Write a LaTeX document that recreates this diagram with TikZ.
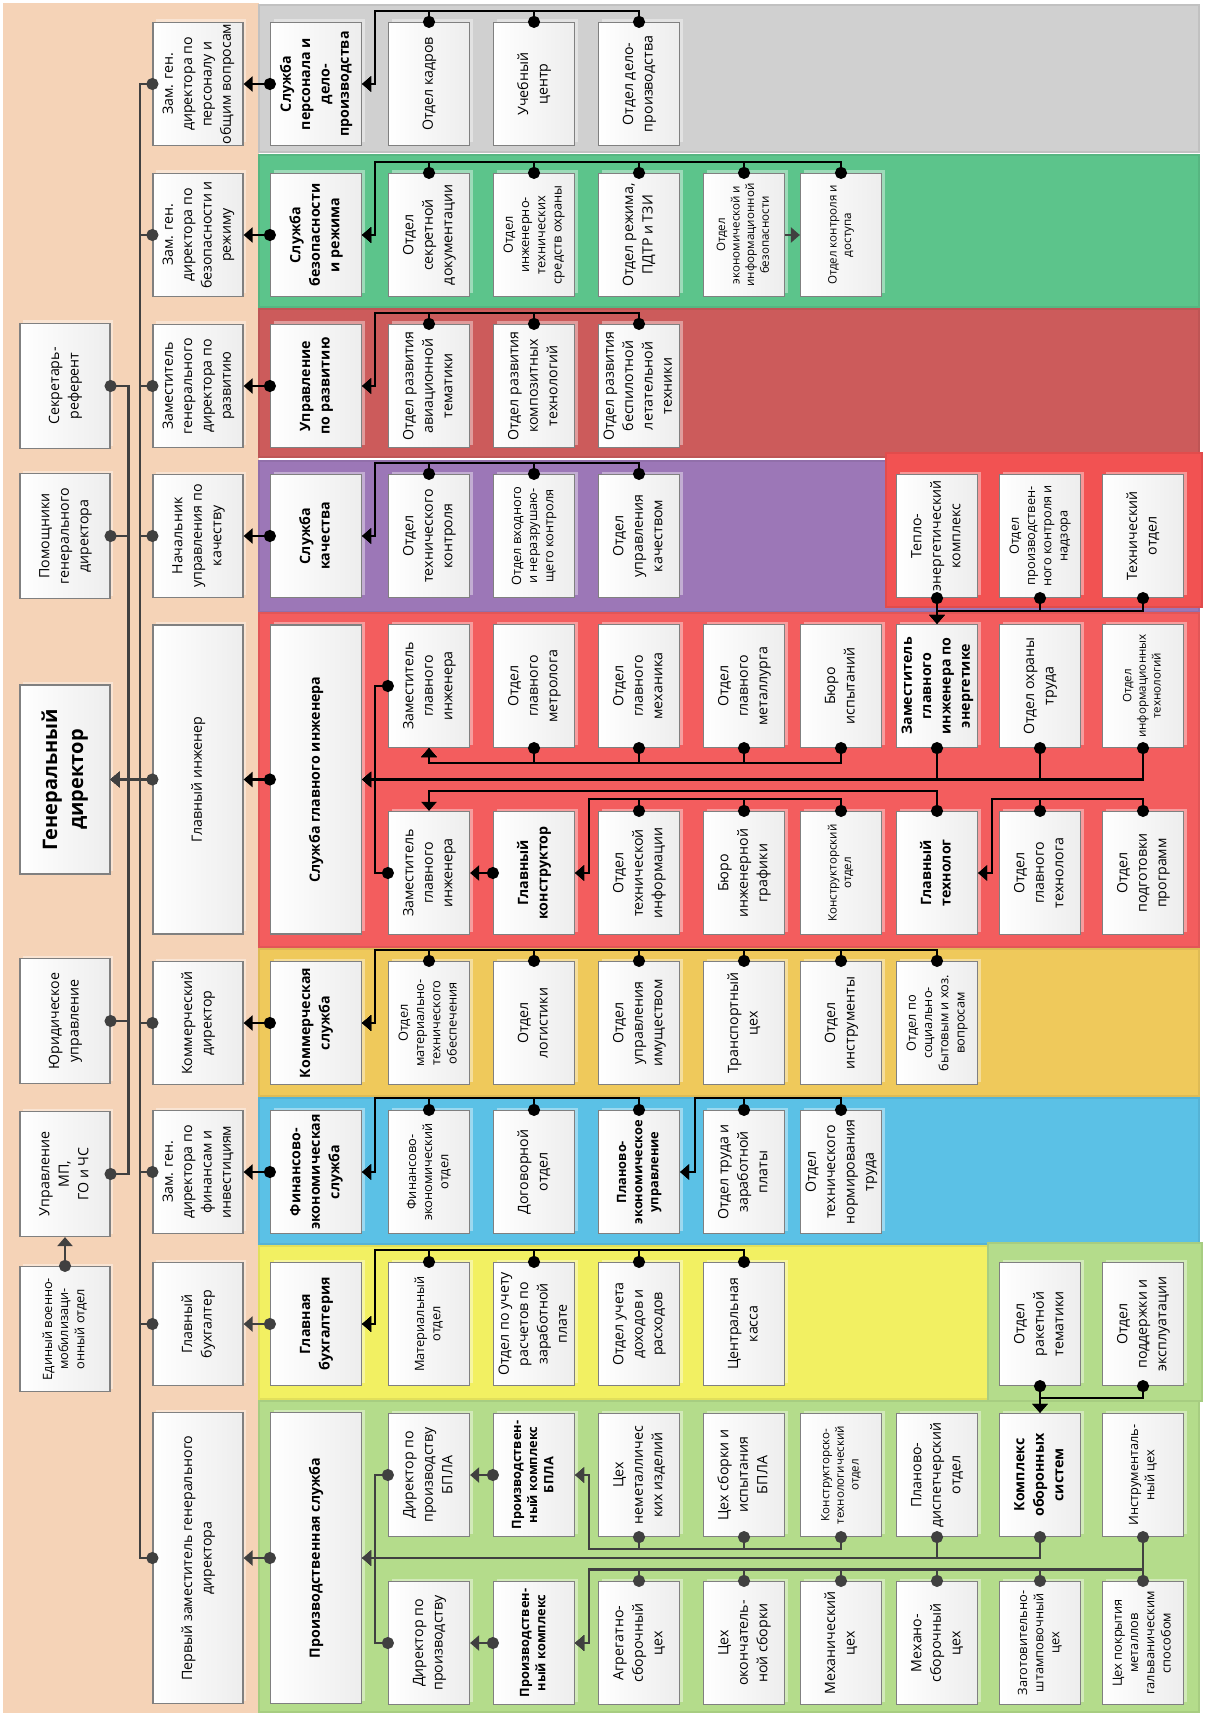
\documentclass[tikz,border=0pt]{standalone}
\usepackage{fontspec}
\setmainfont{Open Sans}
\usepackage{graphicx}
\usetikzlibrary{arrows.meta,calc,shadows}

\definecolor{peach}{HTML}{F5D3B7}
\definecolor{bandgray}{HTML}{D0D0D0}
\definecolor{bandgreen}{HTML}{5CC48B}
\definecolor{banddev}{HTML}{CC5B5B}
\definecolor{bandqual}{HTML}{9C77B7}
\definecolor{bandeng}{HTML}{F35D5E}
\definecolor{bandframe}{HTML}{F25252}
\definecolor{bandcom}{HTML}{EFC95B}
\definecolor{bandfin}{HTML}{5BC1E6}
\definecolor{bandbuh}{HTML}{F2F062}
\definecolor{bandprod}{HTML}{B4DC8B}
\definecolor{linegray}{HTML}{404040}

\newcommand{\vt}[1]{\rotatebox{90}{\begin{tabular}{@{}c@{}}#1\end{tabular}}}

\begin{document}
\begin{tikzpicture}[
  x=0.5pt, y=-0.5pt,
  box/.style={rectangle, draw=black!50, line width=0.6pt, left color=white, right color=black!7,
              inner sep=0pt, minimum width=40.5pt, minimum height=61.5pt,
              font=\fontsize{7.1}{9.7}\selectfont,
              drop shadow={shadow xshift=1.5pt, shadow yshift=1.5pt, fill=white, opacity=0.4}},
  leftcol/.style={minimum width=45pt, minimum height=62.5pt},
  headcol/.style={minimum width=45pt},
  servcol/.style={minimum width=45.5pt, font=\fontsize{7.1}{9.7}\selectfont\bfseries},
  tallbox/.style={minimum height=154.5pt},
  prodbox/.style={minimum height=145.5pt},
  smalltxt/.style={font=\fontsize{6.4}{8.1}\selectfont},
  tinytxt/.style={font=\fontsize{5.8}{7.3}\selectfont},
  boldtxt/.style={font=\fontsize{7.1}{9.7}\selectfont\bfseries},
  boldsmall/.style={font=\fontsize{6.4}{8.1}\selectfont\bfseries},
  band/.style={fill=#1, draw=#1!93!black, line width=1pt},
  link/.style={draw=black, line width=1.3pt, {Circle[length=6pt]}-{Triangle[length=4.5pt,width=7.5pt]}, shorten <=-3pt},
  hlink/.style={link, draw=linegray},
  plainarrow/.style={draw=linegray, line width=1.3pt, -{Triangle[length=4.5pt,width=7.5pt]}}
]
\useasboundingbox (0,0) rectangle (1204,1717);

% backgrounds
\fill[white] (0,0) rectangle (1204,1717);
\fill[peach] (3,3) rectangle (259,1713);
\filldraw[band=bandgray] (259,5) rectangle (1199,152);
\filldraw[band=bandgreen] (259,155) rectangle (1199,307);
\filldraw[band=banddev] (259,309) rectangle (1199,457);
\filldraw[band=bandqual] (259,461) rectangle (1199,612);
\filldraw[band=bandframe] (886,453) rectangle (1202,607);
\filldraw[band=bandeng] (259,613) rectangle (1199,947);
\filldraw[band=bandcom] (259,949) rectangle (1199,1096);
\filldraw[band=bandfin] (259,1098) rectangle (1199,1244);
\filldraw[band=bandbuh] (259,1246) rectangle (988,1399);
\filldraw[band=bandprod] (988,1243) rectangle (1202,1401);
\filldraw[band=bandprod] (259,1401) rectangle (1199,1712);

% left column
\node[box, leftcol] (secr) at (65,386) {\vt{Секретарь-\\референт}};
\node[box, leftcol] (pomosh) at (65,536) {\vt{Помощники\\генерального\\директора}};
\node[box, leftcol, minimum height=94.5pt, font=\fontsize{10}{13}\selectfont\bfseries] (gendir) at (65,779.5) {\vt{Генеральный\\директор}};
\node[box, leftcol] (yurid) at (65,1021) {\vt{Юридическое\\управление}};
\node[box, leftcol] (upmp) at (65,1174) {\vt{Управление\\МП,\\ГО и ЧС}};
\node[box, leftcol, smalltxt] (voen) at (65,1329) {\vt{Единый военно-\\мобилизаци-\\онный отдел}};

% heads
\node[box, headcol] (zamkadr) at (198,84) {\vt{Зам. ген.\\директора по\\персоналу и\\общим вопросам}};
\node[box, headcol] (zambez) at (198,235) {\vt{Зам. ген.\\директора по\\безопасности и\\режиму}};
\node[box, headcol] (zamrazv) at (198,386) {\vt{Заместитель\\генерального\\директора по\\развитию}};
\node[box, headcol] (nachkach) at (198,536) {\vt{Начальник\\управления по\\качеству}};
\node[box, headcol, tallbox] (glinzh) at (198,779.5) {\vt{Главный инженер}};
\node[box, headcol] (komdir) at (198,1023) {\vt{Коммерческий\\директор}};
\node[box, headcol] (zamfin) at (198,1172) {\vt{Зам. ген.\\директора по\\финансам и\\инвестициям}};
\node[box, headcol] (glbuh) at (198,1324) {\vt{Главный\\бухгалтер}};
\node[box, headcol, prodbox] (pervzam) at (198,1558) {\vt{Первый заместитель генерального\\директора}};

% services
\node[box, servcol] (slkadr) at (316,84) {\vt{Служба\\персонала и\\дело-\\производства}};
\node[box, servcol] (slbez) at (316,235) {\vt{Служба\\безопасности\\и режима}};
\node[box, servcol] (uprazv) at (316,386) {\vt{Управление\\по развитию}};
\node[box, servcol] (slkach) at (316,536) {\vt{Служба\\качества}};
\node[box, servcol, tallbox] (slgi) at (316,779.5) {\vt{Служба главного инженера}};
\node[box, servcol] (komsl) at (316,1023) {\vt{Коммерческая\\служба}};
\node[box, servcol] (finsl) at (316,1172) {\vt{Финансово-\\экономическая\\служба}};
\node[box, servcol] (glbuhg) at (316,1324) {\vt{Главная\\бухгалтерия}};
\node[box, servcol, prodbox] (prsl) at (316,1558) {\vt{Производственная служба}};

% personnel
\node[box] (otkadr) at (429,84) {\vt{Отдел кадров}};
\node[box] (uchcen) at (534,84) {\vt{Учебный\\центр}};
\node[box] (otdelo) at (639,84) {\vt{Отдел дело-\\производства}};

% security
\node[box] (otsekr) at (429,235) {\vt{Отдел\\секретной\\документации}};
\node[box, smalltxt] (otinzh) at (534,235) {\vt{Отдел\\инженерно-\\технических\\средств охраны}};
\node[box] (otrezh) at (639,235) {\vt{Отдел режима,\\ПДТР и ТЗИ}};
\node[box, tinytxt] (otekon) at (744,235) {\vt{Отдел\\экономической и\\информационной\\безопасности}};
\node[box, tinytxt] (otkontr) at (841,235) {\vt{Отдел контроля и\\доступа}};

% development
\node[box] (otavia) at (429,386) {\vt{Отдел развития\\авиационной\\тематики}};
\node[box] (otkomp) at (534,386) {\vt{Отдел развития\\композитных\\технологий}};
\node[box] (otbpla) at (639,386) {\vt{Отдел развития\\беспилотной\\летательной\\техники}};

% quality
\node[box] (ottehk) at (429,536) {\vt{Отдел\\технического\\контроля}};
\node[box, smalltxt] (otvhod) at (534,536) {\vt{Отдел входного\\и неразрушаю-\\щего контроля}};
\node[box] (otupkach) at (639,536) {\vt{Отдел\\управления\\качеством}};
\node[box] (teplo) at (937,536) {\vt{Тепло-\\энергетический\\комплекс}};
\node[box, smalltxt] (otprkontr) at (1040,536) {\vt{Отдел\\производствен-\\ного контроля и\\надзора}};
\node[box] (tehotd) at (1143,536) {\vt{Технический\\отдел}};

% chief engineer, upper row
\node[box] (zamgi) at (429,686) {\vt{Заместитель\\главного\\инженера}};
\node[box] (otmetr) at (534,686) {\vt{Отдел\\главного\\метролога}};
\node[box] (otmeh) at (639,686) {\vt{Отдел\\главного\\механика}};
\node[box] (otmetall) at (744,686) {\vt{Отдел\\главного\\металлурга}};
\node[box] (buroisp) at (841,686) {\vt{Бюро\\испытаний}};
\node[box, boldtxt] (zamen) at (937,686) {\vt{Заместитель\\главного\\инженера по\\энергетике}};
\node[box] (otohr) at (1040,686) {\vt{Отдел охраны\\труда}};
\node[box, tinytxt] (otit) at (1143,686) {\vt{Отдел\\информационных\\технологий}};

% chief engineer, lower row
\node[box] (zamgib) at (429,873) {\vt{Заместитель\\главного\\инженера}};
\node[box, boldtxt] (glkon) at (534,873) {\vt{Главный\\конструктор}};
\node[box] (ottinf) at (639,873) {\vt{Отдел\\технической\\информации}};
\node[box] (buroig) at (744,873) {\vt{Бюро\\инженерной\\графики}};
\node[box, tinytxt] (konotd) at (841,873) {\vt{Конструкторский\\отдел}};
\node[box, boldtxt] (gltech) at (937,873) {\vt{Главный\\технолог}};
\node[box] (otgltech) at (1040,873) {\vt{Отдел\\главного\\технолога}};
\node[box] (otpodg) at (1143,873) {\vt{Отдел\\подготовки\\программ}};

% commercial
\node[box, smalltxt] (otmto) at (429,1023) {\vt{Отдел\\материально-\\технического\\обеспечения}};
\node[box] (otlog) at (534,1023) {\vt{Отдел\\логистики}};
\node[box] (otim) at (639,1023) {\vt{Отдел\\управления\\имуществом}};
\node[box] (transp) at (744,1023) {\vt{Транспортный\\цех}};
\node[box] (otinstr) at (841,1023) {\vt{Отдел\\инструменты}};
\node[box, smalltxt] (otsoc) at (937,1023) {\vt{Отдел по\\социально-\\бытовым и хоз.\\вопросам}};

% finance
\node[box, smalltxt] (otfinek) at (429,1172) {\vt{Финансово-\\экономический\\отдел}};
\node[box] (otdog) at (534,1172) {\vt{Договорной\\отдел}};
\node[box, boldsmall] (planek) at (639,1172) {\vt{Планово-\\экономическое\\управление}};
\node[box] (ottruda) at (744,1172) {\vt{Отдел труда и\\заработной\\платы}};
\node[box] (otnorm) at (841,1172) {\vt{Отдел\\технического\\нормирования\\труда}};

% accounting
\node[box, smalltxt] (otmat) at (429,1324) {\vt{Материальный\\отдел}};
\node[box] (otzp) at (534,1324) {\vt{Отдел по учету\\расчетов по\\заработной\\плате}};
\node[box] (otdoh) at (639,1324) {\vt{Отдел учета\\доходов и\\расходов}};
\node[box] (kassa) at (744,1324) {\vt{Центральная\\касса}};
\node[box] (otraket) at (1040,1324) {\vt{Отдел\\ракетной\\тематики}};
\node[box] (otpodd) at (1143,1324) {\vt{Отдел\\поддержки и\\эксплуатации}};

% production, upper row
\node[box] (dirbpla) at (429,1475) {\vt{Директор по\\производству\\БПЛА}};
\node[box, boldsmall] (pkbpla) at (534,1475) {\vt{Производствен-\\ный комплекс\\БПЛА}};
\node[box] (cehnem) at (639,1475) {\vt{Цех\\неметалличес\\ких изделий}};
\node[box] (cehsb) at (744,1475) {\vt{Цех сборки и\\испытания\\БПЛА}};
\node[box, tinytxt] (kto) at (841,1475) {\vt{Конструкторско-\\технологический\\отдел}};
\node[box] (pdo) at (937,1475) {\vt{Планово-\\диспетчерский\\отдел}};
\node[box, boldtxt] (kos) at (1040,1475) {\vt{Комплекс\\оборонных\\систем}};
\node[box, smalltxt] (instr) at (1143,1475) {\vt{Инструменталь-\\ный цех}};

% production, lower row
\node[box] (dirpr) at (429,1643) {\vt{Директор по\\производству}};
\node[box, boldsmall] (pk) at (534,1643) {\vt{Производствен-\\ный комплекс}};
\node[box] (agreg) at (639,1643) {\vt{Агрегатно-\\сборочный\\цех}};
\node[box] (cehok) at (744,1643) {\vt{Цех\\окончатель-\\ной сборки}};
\node[box] (mehceh) at (841,1643) {\vt{Механический\\цех}};
\node[box] (mehsb) at (937,1643) {\vt{Механо-\\сборочный\\цех}};
\node[box, smalltxt] (zagot) at (1040,1643) {\vt{Заготовительно-\\штамповочный\\цех}};
\node[box, smalltxt] (cehpokr) at (1143,1643) {\vt{Цех покрытия\\металлов\\гальваническим\\способом}};

% to the general director
\draw[hlink] (zamkadr.west) -- ++(-12.5,0) |- (gendir.east);
\draw[hlink] (zambez.west) -- ++(-12.5,0) |- (gendir.east);
\draw[hlink] (zamrazv.west) -- ++(-12.5,0) |- (gendir.east);
\draw[hlink] (nachkach.west) -- ++(-12.5,0) |- (gendir.east);
\draw[hlink] (glinzh.west) -- (gendir.east);
\draw[hlink] (komdir.west) -- ++(-12.5,0) |- (gendir.east);
\draw[hlink] (zamfin.west) -- ++(-12.5,0) |- (gendir.east);
\draw[hlink] (glbuh.west) -- ++(-12.5,0) |- (gendir.east);
\draw[hlink] (pervzam.west) -- ++(-12.5,0) |- (gendir.east);
\draw[hlink] (secr.east) -- ++(18,0) |- (gendir.east);
\draw[hlink] (pomosh.east) -- ++(18,0) |- (gendir.east);
\draw[hlink] (yurid.east) -- ++(18,0) |- (gendir.east);
\draw[hlink] (upmp.east) -- ++(18,0) |- (gendir.east);
\draw[hlink] (voen.north) -- (upmp.south);

% services to heads
\draw[link] (slkadr.west) -- (zamkadr.east);
\draw[link] (slbez.west) -- (zambez.east);
\draw[link] (uprazv.west) -- (zamrazv.east);
\draw[link] (slkach.west) -- (nachkach.east);
\draw[link] (slgi.west) -- (glinzh.east);
\draw[link] (komsl.west) -- (komdir.east);
\draw[link] (finsl.west) -- (zamfin.east);
\draw[hlink] (glbuhg.west) -- (glbuh.east);
\draw[hlink] (prsl.west) -- (pervzam.east);

% personnel
\draw[link] (otkadr.north) -- ++(0,-11) -| ($(slkadr.east)+(13,0)$) -- (slkadr.east);
\draw[link] (uchcen.north) -- ++(0,-11) -| ($(slkadr.east)+(13,0)$) -- (slkadr.east);
\draw[link] (otdelo.north) -- ++(0,-11) -| ($(slkadr.east)+(13,0)$) -- (slkadr.east);

% security
\draw[link] (otsekr.north) -- ++(0,-11) -| ($(slbez.east)+(13,0)$) -- (slbez.east);
\draw[link] (otinzh.north) -- ++(0,-11) -| ($(slbez.east)+(13,0)$) -- (slbez.east);
\draw[link] (otrezh.north) -- ++(0,-11) -| ($(slbez.east)+(13,0)$) -- (slbez.east);
\draw[link] (otekon.north) -- ++(0,-11) -| ($(slbez.east)+(13,0)$) -- (slbez.east);
\draw[link] (otkontr.north) -- ++(0,-11) -| ($(slbez.east)+(13,0)$) -- (slbez.east);
\draw[plainarrow] (otekon.east) -- (otkontr.west);

% development
\draw[link] (otavia.north) -- ++(0,-11) -| ($(uprazv.east)+(13,0)$) -- (uprazv.east);
\draw[link] (otkomp.north) -- ++(0,-11) -| ($(uprazv.east)+(13,0)$) -- (uprazv.east);
\draw[link] (otbpla.north) -- ++(0,-11) -| ($(uprazv.east)+(13,0)$) -- (uprazv.east);

% quality
\draw[link] (ottehk.north) -- ++(0,-11) -| ($(slkach.east)+(13,0)$) -- (slkach.east);
\draw[link] (otvhod.north) -- ++(0,-11) -| ($(slkach.east)+(13,0)$) -- (slkach.east);
\draw[link] (otupkach.north) -- ++(0,-11) -| ($(slkach.east)+(13,0)$) -- (slkach.east);
\draw[link] (teplo.south) -- ++(0,13) -| (zamen.north);
\draw[link] (otprkontr.south) -- ++(0,13) -| (zamen.north);
\draw[link] (tehotd.south) -- ++(0,13) -| (zamen.north);

% chief engineer
\draw[link] (otmetr.south) -- ++(0,15) -| (zamgi.south);
\draw[link] (otmeh.south) -- ++(0,15) -| (zamgi.south);
\draw[link] (otmetall.south) -- ++(0,15) -| (zamgi.south);
\draw[link] (buroisp.south) -- ++(0,15) -| (zamgi.south);
\draw[link] (zamen.south) |- (slgi.east);
\draw[link] (otohr.south) |- (slgi.east);
\draw[link] (otit.south) |- (slgi.east);
\draw[link] (zamgi.west) -| ($(slgi.east)+(13,0)$) -- (slgi.east);
\draw[link] (zamgib.west) -| ($(slgi.east)+(13,0)$) -- (slgi.east);
\draw[link] (glkon.west) -- (zamgib.east);
\draw[link] (gltech.north) -- ++(0,-20) -| (zamgib.north);
\draw[link] (ottinf.north) -- ++(0,-12) -| ($(glkon.east)+(14,0)$) -- (glkon.east);
\draw[link] (buroig.north) -- ++(0,-12) -| ($(glkon.east)+(14,0)$) -- (glkon.east);
\draw[link] (konotd.north) -- ++(0,-12) -| ($(glkon.east)+(14,0)$) -- (glkon.east);
\draw[link] (otgltech.north) -- ++(0,-12) -| ($(gltech.east)+(14,0)$) -- (gltech.east);
\draw[link] (otpodg.north) -- ++(0,-12) -| ($(gltech.east)+(14,0)$) -- (gltech.east);

% commercial
\draw[link] (otmto.north) -- ++(0,-11) -| ($(komsl.east)+(13,0)$) -- (komsl.east);
\draw[link] (otlog.north) -- ++(0,-11) -| ($(komsl.east)+(13,0)$) -- (komsl.east);
\draw[link] (otim.north) -- ++(0,-11) -| ($(komsl.east)+(13,0)$) -- (komsl.east);
\draw[link] (transp.north) -- ++(0,-11) -| ($(komsl.east)+(13,0)$) -- (komsl.east);
\draw[link] (otinstr.north) -- ++(0,-11) -| ($(komsl.east)+(13,0)$) -- (komsl.east);
\draw[link] (otsoc.north) -- ++(0,-11) -| ($(komsl.east)+(13,0)$) -- (komsl.east);

% finance
\draw[link] (otfinek.north) -- ++(0,-12) -| ($(finsl.east)+(13,0)$) -- (finsl.east);
\draw[link] (otdog.north) -- ++(0,-12) -| ($(finsl.east)+(13,0)$) -- (finsl.east);
\draw[link] (planek.north) -- ++(0,-12) -| ($(finsl.east)+(13,0)$) -- (finsl.east);
\draw[link] (ottruda.north) -- ++(0,-12) -| ($(planek.east)+(15,0)$) -- (planek.east);
\draw[link] (otnorm.north) -- ++(0,-12) -| ($(planek.east)+(15,0)$) -- (planek.east);

% accounting
\draw[link] (otmat.north) -- ++(0,-12) -| ($(glbuhg.east)+(13,0)$) -- (glbuhg.east);
\draw[link] (otzp.north) -- ++(0,-12) -| ($(glbuhg.east)+(13,0)$) -- (glbuhg.east);
\draw[link] (otdoh.north) -- ++(0,-12) -| ($(glbuhg.east)+(13,0)$) -- (glbuhg.east);
\draw[link] (kassa.north) -- ++(0,-12) -| ($(glbuhg.east)+(13,0)$) -- (glbuhg.east);
\draw[link] (otraket.south) -- ++(0,12) -| (kos.north);
\draw[link] (otpodd.south) -- ++(0,12) -| (kos.north);

% production
\draw[hlink] (dirbpla.west) -| ($(prsl.east)+(13,0)$) -- (prsl.east);
\draw[hlink] (dirpr.west) -| ($(prsl.east)+(13,0)$) -- (prsl.east);
\draw[hlink] (pkbpla.west) -- (dirbpla.east);
\draw[hlink] (pk.west) -- (dirpr.east);
\draw[hlink] (cehnem.south) -- ++(0,12) -| ($(pkbpla.east)+(14,0)$) -- (pkbpla.east);
\draw[hlink] (cehsb.south) -- ++(0,12) -| ($(pkbpla.east)+(14,0)$) -- (pkbpla.east);
\draw[hlink] (kto.south) -- ++(0,12) -| ($(pkbpla.east)+(14,0)$) -- (pkbpla.east);
\draw[hlink] (pdo.south) |- (prsl.east);
\draw[hlink] (kos.south) |- (prsl.east);
\draw[hlink] (instr.south) -- ++(0,33) -| ($(pk.east)+(14,0)$) -- (pk.east);
\draw[hlink] (agreg.north) -- ++(0,-12) -| ($(pk.east)+(14,0)$) -- (pk.east);
\draw[hlink] (cehok.north) -- ++(0,-12) -| ($(pk.east)+(14,0)$) -- (pk.east);
\draw[hlink] (mehceh.north) -- ++(0,-12) -| ($(pk.east)+(14,0)$) -- (pk.east);
\draw[hlink] (mehsb.north) -- ++(0,-12) -| ($(pk.east)+(14,0)$) -- (pk.east);
\draw[hlink] (zagot.north) -- ++(0,-12) -| ($(pk.east)+(14,0)$) -- (pk.east);
\draw[hlink] (cehpokr.north) -- ++(0,-12) -| ($(pk.east)+(14,0)$) -- (pk.east);
\end{tikzpicture}
\end{document}
